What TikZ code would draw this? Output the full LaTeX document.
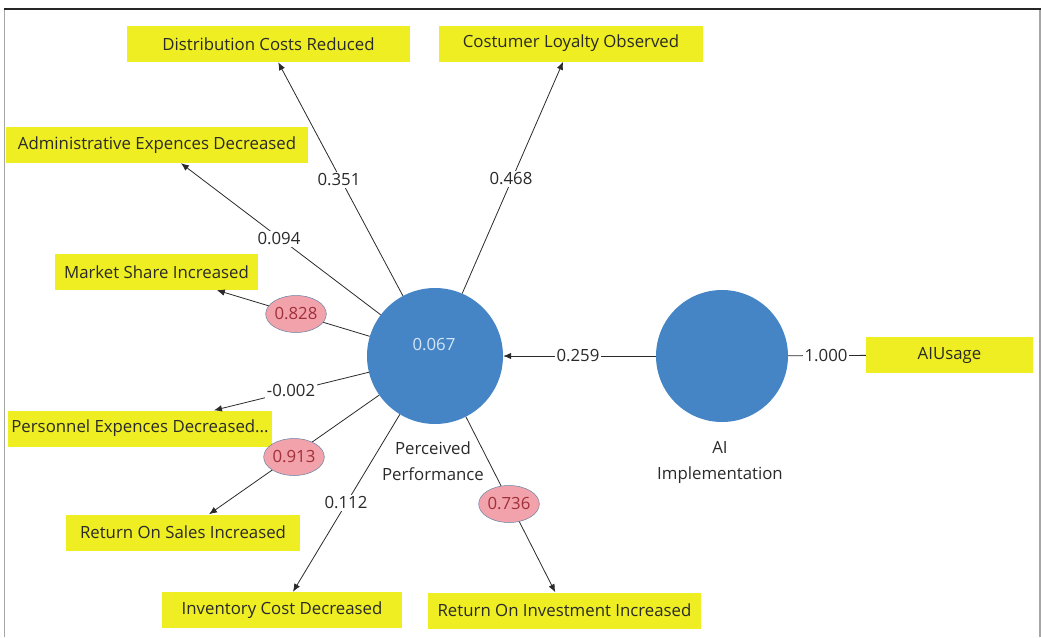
\documentclass[tikz,border=0pt]{standalone}
\usepackage{fontspec}
\setmainfont{Open Sans}
\usetikzlibrary{arrows.meta,shapes.geometric}
\definecolor{yl}{HTML}{EEEE22}
\definecolor{cblue}{HTML}{4585C6}
\definecolor{pk}{HTML}{F2A2AA}
\definecolor{txt}{HTML}{2A2A2A}
\definecolor{redtxt}{HTML}{A0303A}
\definecolor{lbl}{HTML}{D2E6F7}
\begin{document}
\begin{tikzpicture}[x=1pt,y=-1pt,
  font=\fontsize{16.8}{20}\selectfont,
  ind/.style={fill=yl, draw=none, inner sep=0pt, text=txt, minimum height=36pt},
  lv/.style={circle, fill=cblue, draw=none, inner sep=0pt},
  coef/.style={fill=white, inner sep=1.5pt, text=txt},
  load/.style={ellipse, fill=pk, draw=cblue!50!gray, line width=0.5pt, minimum width=60pt, minimum height=37pt, inner sep=0pt, text=redtxt},
  conn/.style={draw=txt, line width=0.8pt},
  arr/.style={conn, -{Latex[length=8pt,width=6.5pt]}},
  lvcap/.style={text=txt, align=center, font=\fontsize{16.8}{26}\selectfont}
]
\useasboundingbox (0,0) rectangle (1041,637);
% frame
\draw[gray!70, line width=1.5pt] (4.5,637) -- (4.5,8.5);
\draw[gray!70, line width=1.5pt] (1040,8.5) -- (1040,637);
\draw[black!85, line width=2pt] (3.75,8.5) -- (1041,8.5);

% latent variables
\node[lv, minimum size=136pt] (pp) at (435,356) {};
\node[lv, minimum size=132pt] (ai) at (722,356) {};
\node[text=lbl] (r2) at (434,345) {0.067};
\node[lvcap] (ppcap) at (433,461) {Perceived\\Performance};
\node[lvcap] (aicap) at (720,462.5) {AI\\Implementation};

% indicators
\node[ind, minimum width=283pt] (dcr) at (268.5,44) {Distribution Costs Reduced};
\node[ind, minimum width=302pt] (aed) at (157,145) {Administrative Expences Decreased};
\node[ind, minimum width=203pt] (msi) at (156.5,272) {Market Share Increased};
\node[ind, minimum width=264pt] (clo) at (571,43.5) {Costumer Loyalty Observed};
\node[ind, minimum width=264pt] (ped) at (140,428.5) {Personnel Expences Decreased...};
\node[ind, minimum width=234pt] (rsi) at (183,532.5) {Return On Sales Increased};
\node[ind, minimum width=240pt] (icd) at (282,610) {Inventory Cost Decreased};
\node[ind, minimum width=273pt] (roi) at (564.5,610.5) {Return On Investment Increased};
\node[ind, minimum width=167pt] (aiu) at (949.5,355) {AIUsage};

% connectors
\draw[arr] (pp) -- (dcr);
\draw[arr] (pp) -- (aed);
\draw[arr] (pp) -- (msi);
\draw[arr] (pp) -- (clo);
\draw[arr] (pp) -- (ped);
\draw[arr] (pp) -- (rsi);
\draw[arr] (pp) -- (icd);
\draw[arr] (pp) -- (roi);
\draw[arr] (ai) -- (pp);
\draw[conn] (ai) -- (aiu);

% coefficients
\node[coef] (c351) at (339,180) {0.351};
\node[coef] (c094) at (279,239) {0.094};
\node[coef] (c468) at (511,179) {0.468};
\node[coef] (c002) at (291,391) {-0.002};
\node[coef] (c112) at (346,503) {0.112};
\node[coef] (c259) at (578,356) {0.259};
\node[coef] (c1000) at (826,356) {1.000};
\node[load] (c828) at (296,314) {0.828};
\node[load] (c913) at (294,457) {0.913};
\node[load] (c736) at (509,504) {0.736};
\end{tikzpicture}
\end{document}
